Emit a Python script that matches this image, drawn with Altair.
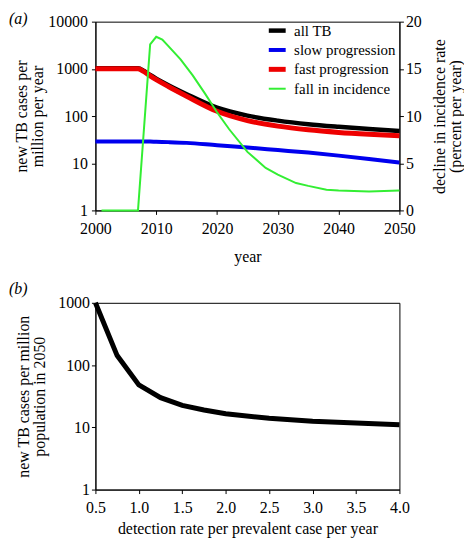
import altair as alt
import pandas as pd

# ---- panel (a) data ----
years = [2000, 2007, 2008, 2009, 2010, 2012, 2015, 2020, 2025, 2030, 2035, 2040, 2045, 2050]
all_tb = [1030, 1030, 900, 740, 620, 450, 290, 150, 102, 80, 67, 59, 53, 48]
slow_prog = [29, 29, 29, 28.8, 28.5, 28, 27, 24, 21.5, 19, 16.8, 14.5, 12.3, 10.3]
fast_prog = [1000, 1000, 870, 712, 592, 422, 263, 126, 80, 61, 51, 45, 41, 38]

fall_years = [2001, 2007, 2009, 2010, 2011, 2012, 2014, 2016, 2018, 2020, 2022, 2025,
              2028, 2030, 2033, 2035, 2038, 2040, 2045, 2050]
fall_incidence = [0, 0, 17.6, 18.4, 18.1, 17.4, 16.0, 14.3, 12.4, 10.4, 8.6, 6.2,
                  4.5, 3.8, 2.9, 2.6, 2.2, 2.1, 2.0, 2.1]

series_names = ["all TB", "slow progression", "fast progression", "fall in incidence"]
series_colors = ["#000000", "#0000ee", "#ee0000", "#33ee33"]
series_widths = [4.5, 4, 5, 2]

# ---- panel (b) data ----
detection_rate = [0.5, 0.75, 1.0, 1.25, 1.5, 1.75, 2.0, 2.5, 3.0, 3.5, 4.0]
cases_2050 = [1000, 142, 48, 30, 22.5, 19, 16.5, 14, 12.5, 11.7, 11]

df_top = pd.DataFrame({
    "year": years * 3,
    "value": all_tb + slow_prog + fast_prog,
    "series": ["all TB"] * len(years) + ["slow progression"] * len(years) + ["fast progression"] * len(years),
})
df_fall = pd.DataFrame({"year": fall_years, "fall": fall_incidence,
                        "series": ["fall in incidence"] * len(fall_years)})
df_b = pd.DataFrame({"rate": detection_rate, "cases": cases_2050})

leg = dict(orient="none", legendX=172, legendY=-2, title=None, labelFontSize=15,
           symbolType="stroke", symbolSize=289, rowPadding=-3, labelOffset=6, padding=0,
           labelColor="black")

color = alt.Color("series:N", scale=alt.Scale(domain=series_names, range=series_colors),
                  legend=alt.Legend(**leg))
sw = alt.StrokeWidth("series:N", scale=alt.Scale(type="ordinal", domain=series_names, range=series_widths),
                     legend=alt.Legend(**leg))

x_top = alt.X("year:Q", scale=alt.Scale(domain=[2000, 2050], nice=False),
              axis=alt.Axis(values=[2000, 2010, 2020, 2030, 2040, 2050], format="d",
                            title="year", titlePadding=12, labelPadding=6))

lines = alt.Chart(df_top).mark_line(interpolate="monotone").encode(
    x=x_top,
    y=alt.Y("value:Q", scale=alt.Scale(type="log", domain=[1, 10000], nice=False),
            axis=alt.Axis(values=[1, 10, 100, 1000, 10000], format="d",
                          title=["new TB cases per", "million per year"], titlePadding=2,
                          labelPadding=4)),
    color=color, strokeWidth=sw,
)
fall_line = alt.Chart(df_fall).mark_line().encode(
    x=x_top,
    y=alt.Y("fall:Q", scale=alt.Scale(domain=[0, 20], nice=False),
            axis=alt.Axis(orient="right", values=[0, 5, 10, 15, 20], titleAngle=270,
                          title=["decline in incidence rate", "(percent per year)"], titlePadding=10)),
    color=color, strokeWidth=sw,
)
label_a = alt.Chart(pd.DataFrame({"t": ["(a)"]})).mark_text(
    align="left", baseline="middle", fontStyle="italic", fontSize=16, color="black"
).encode(x=alt.value(-87), y=alt.value(-3), text="t:N")

top = alt.layer(lines, fall_line, label_a).resolve_scale(y="independent").properties(width=306, height=190)

bottom_line = alt.Chart(df_b).mark_line(color="black", strokeWidth=5).encode(
    x=alt.X("rate:Q", scale=alt.Scale(domain=[0.5, 4.0], nice=False),
            axis=alt.Axis(values=[0.5, 1.0, 1.5, 2.0, 2.5, 3.0, 3.5, 4.0], format=".1f",
                          title="detection rate per prevalent case per year", titlePadding=5,
                          labelPadding=6)),
    y=alt.Y("cases:Q", scale=alt.Scale(type="log", domain=[1, 1000], nice=False),
            axis=alt.Axis(values=[1, 10, 100, 1000], format="d",
                          title=["new TB cases per million", "population in 2050"], titlePadding=10)),
)
label_b = alt.Chart(pd.DataFrame({"t": ["(b)"]})).mark_text(
    align="left", baseline="middle", fontStyle="italic", fontSize=16, color="black"
).encode(x=alt.value(-87), y=alt.value(-14), text="t:N")

bottom = alt.layer(bottom_line, label_b).properties(width=306, height=188)

chart = alt.vconcat(top, bottom, spacing=15).properties(
    padding={"left": 0, "top": 0, "right": 0, "bottom": 0}
).configure(font="Liberation Serif").configure_view(
    stroke="black", strokeWidth=1
).configure_axis(
    grid=False, labelFontSize=16, titleFontSize=16, titleFontWeight="normal",
    labelColor="black", titleColor="black", domainColor="black", tickColor="black",
    tickSize=4, labelPadding=2, titleLineHeight=16, labelFont="Liberation Serif",
    titleFont="Liberation Serif", labelFlush=False
)

chart.save("out.html", embed_options={"renderer": "svg", "actions": False})
